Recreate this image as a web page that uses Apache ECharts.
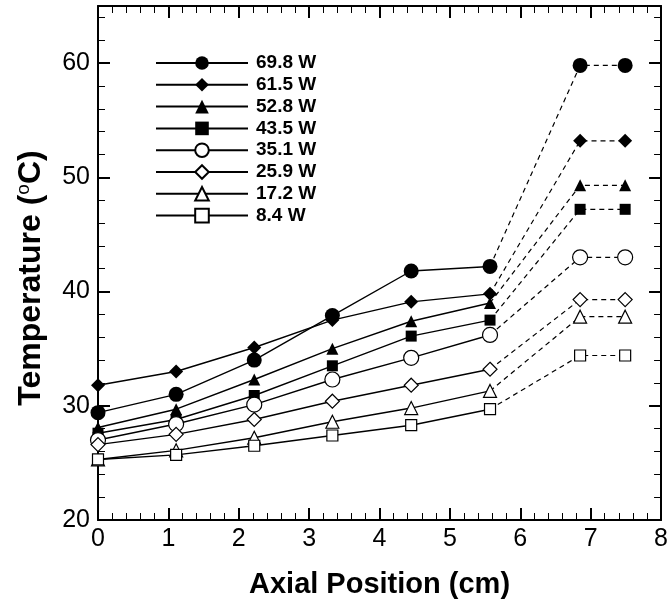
<!DOCTYPE html>
<html>
<head>
<meta charset="utf-8">
<script src="https://cdn.jsdelivr.net/npm/echarts@6/dist/echarts.min.js"></script>
<style>
html,body{margin:0;padding:0;background:#fff;}
#c{width:671px;height:604px;}
</style>
</head>
<body>
<div id="c"></div>
<script>
// Axial positions (cm)
var xPos = [0, 1.11, 2.22, 3.33, 4.45, 5.57, 6.85, 7.49];
var powers = ['69.8 W', '61.5 W', '52.8 W', '43.5 W', '35.1 W', '25.9 W', '17.2 W', '8.4 W'];
// Temperatures (°C)
var t698 = [29.4, 31.0, 34.0, 37.9, 41.8, 42.2, 59.8, 59.8];
var t615 = [31.8, 33.0, 35.1, 37.5, 39.1, 39.8, 53.2, 53.2];
var t528 = [28.1, 29.7, 32.3, 35.0, 37.4, 39.0, 49.3, 49.3];
var t435 = [27.6, 28.8, 30.9, 33.5, 36.1, 37.5, 47.2, 47.2];
var t351 = [27.0, 28.4, 30.1, 32.3, 34.2, 36.2, 43.0, 43.0];
var t259 = [26.6, 27.5, 28.8, 30.4, 31.8, 33.2, 39.3, 39.3];
var t172 = [25.3, 26.1, 27.2, 28.6, 29.8, 31.3, 37.8, 37.8];
var t84  = [25.3, 25.7, 26.5, 27.4, 28.3, 29.7, 34.4, 34.4];
var temps = [t698, t615, t528, t435, t351, t259, t172, t84];

var symbols = ['circle', 'diamond', 'triangle', 'rect', 'circle', 'diamond', 'triangle', 'rect'];
var symSizes = [15, 14, 12, 11, 15, 14, 13, 11];
var filled = [true, true, true, true, false, false, false, false];

var series = [];
for (var i = 0; i < powers.length; i++) {
  var solid = [], dashed = [];
  for (var j = 0; j < xPos.length; j++) {
    if (j <= 5) solid.push([xPos[j], temps[i][j]]);
    if (j >= 5) dashed.push(j === 5 ? {value: [xPos[j], temps[i][j]], symbol: 'none'} : [xPos[j], temps[i][j]]);
  }
  var itemStyle = filled[i] ? {color: '#000', borderColor: '#000', borderWidth: 0}
                            : {color: '#fff', borderColor: '#000', borderWidth: 1.2};
  series.push({
    name: powers[i], type: 'line', data: solid, symbol: symbols[i], symbolSize: symSizes[i],
    lineStyle: {color: '#000', width: 1.4, type: 'solid'}, itemStyle: itemStyle,
    z: 2 + i, animation: false, showAllSymbol: true
  });
  series.push({
    name: powers[i] + ' ', type: 'line', data: dashed, symbol: symbols[i], symbolSize: symSizes[i],
    lineStyle: {color: '#000', width: 1.2, type: [5, 4]}, itemStyle: itemStyle,
    z: 2 + i, animation: false, showAllSymbol: true
  });
}

var chart = echarts.init(document.getElementById('c'), null, {renderer: 'canvas'});
var axisFont = 'Liberation Sans, Arial, sans-serif';
function axisBase() {
  return {
    axisLine: {show: true, onZero: false, lineStyle: {color: '#000', width: 2}},
    axisTick: {show: true, inside: true, length: 12, lineStyle: {color: '#000', width: 2}},
    minorTick: {show: true, splitNumber: 5, length: 7, lineStyle: {color: '#000', width: 1}},
    splitLine: {show: false}
  };
}
function merge(a, b) { for (var k in b) a[k] = b[k]; return a; }

chart.setOption({
  animation: false,
  backgroundColor: '#fff',
  grid: {left: 98, top: 6, right: 9, bottom: 81, containLabel: false},
  legend: {
    data: powers, orient: 'vertical', left: 155, top: 53.5, padding: 0,
    itemWidth: 92, itemHeight: 17, itemGap: 2.8,
    selectedMode: false,
    textStyle: {fontFamily: axisFont, fontWeight: 'bold', fontSize: 19, color: '#000', lineHeight: 17, padding: [0, 0, 0, 3]}
  },
  xAxis: [
    merge(axisBase(), {
      type: 'value', min: 0, max: 8, interval: 1, position: 'bottom',
      name: 'Axial Position (cm)', nameLocation: 'middle', nameGap: 50,
      nameTextStyle: {fontFamily: axisFont, fontWeight: 'bold', fontSize: 29, color: '#000'},
      axisLabel: {fontFamily: axisFont, fontSize: 25, color: '#000', margin: 7}
    }),
    merge(axisBase(), {
      type: 'value', min: 0, max: 8, interval: 1, position: 'top',
      axisLabel: {show: false}
    })
  ],
  yAxis: [
    merge(axisBase(), {
      type: 'value', min: 20, max: 65, interval: 10, position: 'left',
      name: '{t|Temperature (}{s|o}{t|C)}', nameLocation: 'middle', nameGap: 50, nameRotate: 90,
      nameTextStyle: {
        padding: [0, 30, 0, 0],
        rich: {
          t: {fontFamily: axisFont, fontWeight: 'bold', fontSize: 32, color: '#000'},
          s: {fontFamily: axisFont, fontSize: 19, color: '#000', verticalAlign: 'top', padding: [0, 0, 15, 0]}
        }
      },
      axisLabel: {fontFamily: axisFont, fontSize: 25, color: '#000', margin: 8, showMaxLabel: false,
        formatter: function (v) { return v % 10 === 0 ? String(v) : ''; }}
    }),
    merge(axisBase(), {
      type: 'value', min: 20, max: 65, interval: 10, position: 'right',
      axisLabel: {show: false}
    })
  ],
  series: series
});
</script>
</body>
</html>
